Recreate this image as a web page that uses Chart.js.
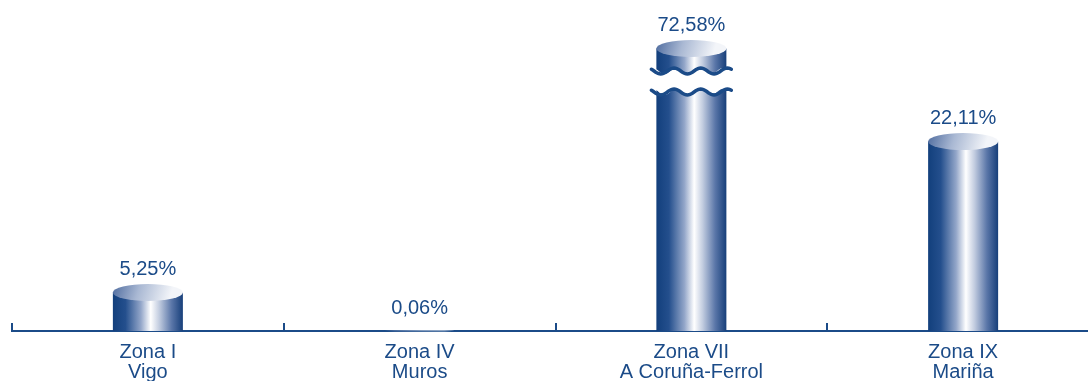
<!DOCTYPE html>
<html lang="es">
<head>
<meta charset="utf-8">
<title>Zonas</title>
<script src="https://cdn.jsdelivr.net/npm/chart.js@4.4.1/dist/chart.umd.min.js"></script>
<style>
    html, body { margin: 0; padding: 0; background: #ffffff; overflow: hidden; }
    /* el lienzo es algo más ancho que la ventana: la última categoría queda cortada */
    #wrap { width: 1099px; height: 381px; }
</style>
</head>
<body>
<div id="wrap"><canvas id="zonas-chart"></canvas></div>
<script>
// --- DATOS ---
const zonas = ['Zona I', 'Zona IV', 'Zona VII', 'Zona IX'];
const lugares = ['Vigo', 'Muros', 'A Coruña-Ferrol', 'Mariña'];
const porcentajes = [5.25, 0.06, 72.58, 22.11];
const etiquetas = ['5,25%', '0,06%', '72,58%', '22,11%'];

// --- ESTILO ---
const AZUL = '#1b4b88';
const FUENTE = '"Liberation Sans", Arial, sans-serif';
const MAX_EJE = 32.5; // las barras por encima se dibujan cortadas

/**
 * Dibuja las barras como cilindros, con corte ondulado si superan el eje.
 */
const cilindros = {
    id: 'cilindros',
    afterDatasetsDraw(chart) {
        const ctx = chart.ctx;
        const meta = chart.getDatasetMeta(0);
        const yScale = chart.scales.y;
        const area = chart.chartArea;

        meta.data.forEach((bar, i) => {
            const w = bar.width;
            const x0 = bar.x - w / 2;
            const x1 = bar.x + w / 2;
            const base = bar.base;
            const yVal = yScale.getPixelForValue(porcentajes[i]);
            const roto = yVal < area.top;

            const cuerpo = ctx.createLinearGradient(x0, 0, x1, 0);
            cuerpo.addColorStop(0, '#123f7c');
            cuerpo.addColorStop(0.18, '#244f8d');
            cuerpo.addColorStop(0.4, '#93a6c9');
            cuerpo.addColorStop(0.54, '#ffffff');
            cuerpo.addColorStop(0.66, '#c3cde0');
            cuerpo.addColorStop(0.84, '#5a76a8');
            cuerpo.addColorStop(1, '#173f7a');

            const top = roto ? area.top : yVal;
            let ry = 8.5;
            if (base - top < 2 * ry) ry = Math.max((base - top) / 2, 0.4);
            const cy = top + ry;

            const tapa = ctx.createLinearGradient(x0, cy - ry, x1 - w * 0.2, cy + ry);
            tapa.addColorStop(0, '#4f6c9f');
            tapa.addColorStop(0.45, '#a9b8d3');
            tapa.addColorStop(1, '#f3f5f9');

            ctx.save();
            if (!roto) {
                ctx.fillStyle = cuerpo;
                ctx.fillRect(x0, cy, w, base - cy);
            } else {
                // parte superior (tapa) y parte inferior con corte
                const ondaSup = area.top + 31;
                const ondaInf = area.top + 52;
                ctx.fillStyle = cuerpo;
                ctx.beginPath();
                ctx.moveTo(x0, cy);
                ctx.lineTo(x1, cy);
                ctx.lineTo(x1, ondaSup);
                onda(ctx, x1, x0, ondaSup, false);
                ctx.closePath();
                ctx.fill();

                ctx.beginPath();
                ctx.moveTo(x0, base);
                ctx.lineTo(x0, ondaInf);
                onda(ctx, x0, x1, ondaInf, false);
                ctx.lineTo(x1, base);
                ctx.closePath();
                ctx.fill();

                ctx.strokeStyle = AZUL;
                ctx.lineWidth = 3.5;
                ctx.lineCap = 'round';
                [ondaSup, ondaInf].forEach(yy => {
                    ctx.beginPath();
                    onda(ctx, x0 - 5, x1 + 5, yy, true);
                    ctx.stroke();
                });
            }
            ctx.fillStyle = tapa;
            ctx.beginPath();
            ctx.ellipse(bar.x, cy, w / 2, ry, 0, 0, Math.PI * 2);
            ctx.fill();

            // etiqueta del valor
            ctx.fillStyle = AZUL;
            ctx.font = '20px ' + FUENTE;
            ctx.textAlign = 'center';
            ctx.textBaseline = 'alphabetic';
            ctx.fillText(etiquetas[i], bar.x, Math.min(top, base - 8) - 9);
            ctx.restore();
        });

        // marcas del eje entre categorías
        const xScale = chart.scales.x;
        ctx.save();
        ctx.strokeStyle = AZUL;
        ctx.lineWidth = 2;
        for (let i = 0; i < zonas.length; i++) {
            const xb = i === 0
                ? xScale.getPixelForValue(0) - (xScale.getPixelForValue(1) - xScale.getPixelForValue(0)) / 2
                : (xScale.getPixelForValue(i - 1) + xScale.getPixelForValue(i)) / 2;
            ctx.beginPath();
            ctx.moveTo(Math.round(xb), area.bottom);
            ctx.lineTo(Math.round(xb), area.bottom - 8);
            ctx.stroke();
        }
        ctx.restore();
    }
};

/**
 * Traza una línea ondulada (3 periodos) de xa a xb alrededor de y.
 */
function onda(ctx, xa, xb, y, desdeInicio) {
    const pasos = 60;
    const amp = 3;
    for (let k = 0; k <= pasos; k++) {
        const t = k / pasos;
        const x = xa + (xb - xa) * t;
        const fase = (xb > xa ? t : 1 - t) * Math.PI * 2 * 3;
        const yy = y - amp * Math.cos(fase + Math.PI * 0.3);
        if (k === 0 && desdeInicio) ctx.moveTo(x, yy);
        else ctx.lineTo(x, yy);
    }
}

new Chart(document.getElementById('zonas-chart'), {
    type: 'bar',
    data: {
        labels: zonas.map((z, i) => [z, lugares[i]]),
        datasets: [{
            data: porcentajes,
            backgroundColor: 'rgba(0,0,0,0)',
            borderWidth: 0,
            barThickness: 70
        }]
    },
    options: {
        responsive: true,
        maintainAspectRatio: false,
        animation: false,
        layout: { padding: { top: 40, left: 12, right: 0, bottom: 0 } },
        plugins: { legend: { display: false }, tooltip: { enabled: false } },
        scales: {
            x: {
                grid: { display: false },
                border: { display: true, color: AZUL, width: 2 },
                afterFit(scale) { scale.height = 50; },
                ticks: {
                    color: AZUL,
                    padding: 3,
                    maxRotation: 0,
                    autoSkip: false,
                    font: { family: FUENTE, size: 20, lineHeight: 1.0 }
                }
            },
            y: {
                display: false,
                min: 0,
                max: MAX_EJE
            }
        }
    },
    plugins: [cilindros]
});
</script>
</body>
</html>
